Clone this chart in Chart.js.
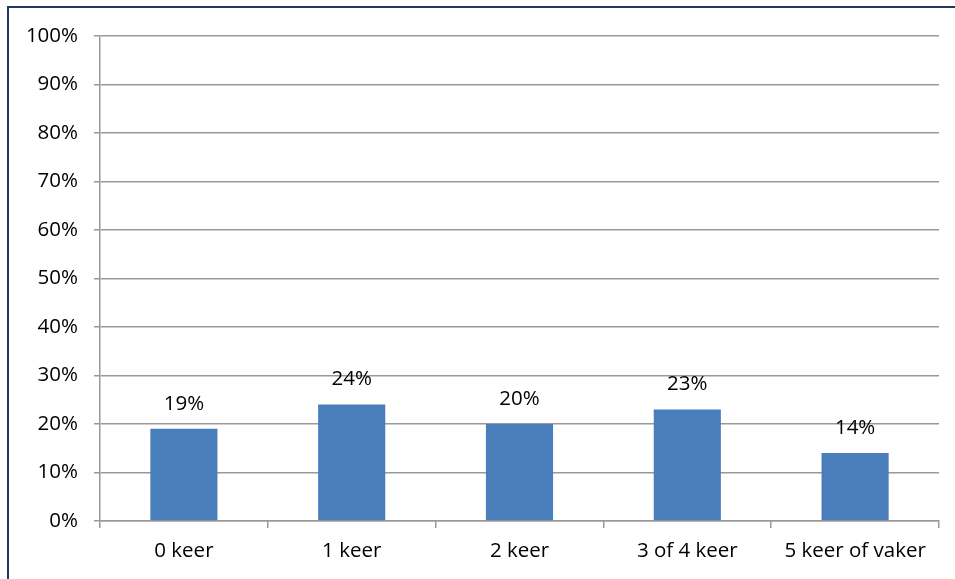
<!DOCTYPE html>
<html>
<head>
<meta charset="utf-8">
<script src="https://cdn.jsdelivr.net/npm/chart.js@4"></script>
<style>
  html, body { margin: 0; padding: 0; background: #fff; }
  #wrap { position: relative; width: 955px; height: 579px; overflow: hidden; }
  #frame { position: absolute; left: 7px; top: 6px; width: 1000px; height: 700px;
           border-left: 2px solid #203864; border-top: 2px solid #203864; }
  canvas { position: absolute; left: 0; top: 0; }
</style>
</head>
<body>
<div id="wrap">
  <div id="frame"></div>
  <canvas id="barChart" width="955" height="579"></canvas>
</div>
<script>
const categories = ['0 keer', '1 keer', '2 keer', '3 of 4 keer', '5 keer of vaker'];
const percentages = [19, 24, 20, 23, 14];
const yTicks = [0, 10, 20, 30, 40, 50, 60, 70, 80, 90, 100];

const fontFamily = '"Open Sans", Lato, sans-serif';
const fontSize = 20.5;

// draws the value labels above the bars
const valueLabels = {
    id: 'valueLabels',
    afterDatasetsDraw(chart) {
        const ctx = chart.ctx;
        const meta = chart.getDatasetMeta(0);
        ctx.save();
        ctx.font = fontSize + 'px ' + fontFamily;
        ctx.fillStyle = '#000';
        ctx.textAlign = 'center';
        ctx.textBaseline = 'middle';
        meta.data.forEach((bar, i) => {
            ctx.fillText(percentages[i] + '%', bar.x, bar.y - 25);
        });
        ctx.restore();
    }
};

new Chart(document.getElementById('barChart'), {
    type: 'bar',
    data: {
        labels: categories,
        datasets: [{
            data: percentages,
            backgroundColor: '#4a7ebb',
            borderWidth: 0,
            barPercentage: 0.4,
            categoryPercentage: 1
        }]
    },
    options: {
        responsive: false,
        animation: false,
        layout: { padding: { top: 36, right: 16, left: 0, bottom: 0 } },
        plugins: {
            legend: { display: false },
            tooltip: { enabled: false }
        },
        scales: {
            x: {
                offset: true,
                grid: {
                    offset: true,
                    drawOnChartArea: false,
                    color: '#999',
                    lineWidth: 1.5,
                    tickLength: 7
                },
                border: { color: '#999', width: 1.5 },
                ticks: {
                    color: '#000',
                    font: { size: fontSize, family: fontFamily },
                    padding: 11,
                    maxRotation: 0
                },
                afterFit(scale) { scale.height = 58; }
            },
            y: {
                min: 0,
                max: 100,
                afterBuildTicks(scale) {
                    scale.ticks = yTicks.map(v => ({ value: v }));
                },
                grid: {
                    color: '#999',
                    lineWidth: 1.5,
                    tickLength: 6
                },
                border: { color: '#999', width: 1.5 },
                ticks: {
                    color: '#000',
                    font: { size: fontSize, family: fontFamily },
                    padding: 16,
                    callback: v => v + '%'
                },
                afterFit(scale) { scale.width = 100; }
            }
        }
    },
    plugins: [valueLabels]
});
</script>
</body>
</html>
